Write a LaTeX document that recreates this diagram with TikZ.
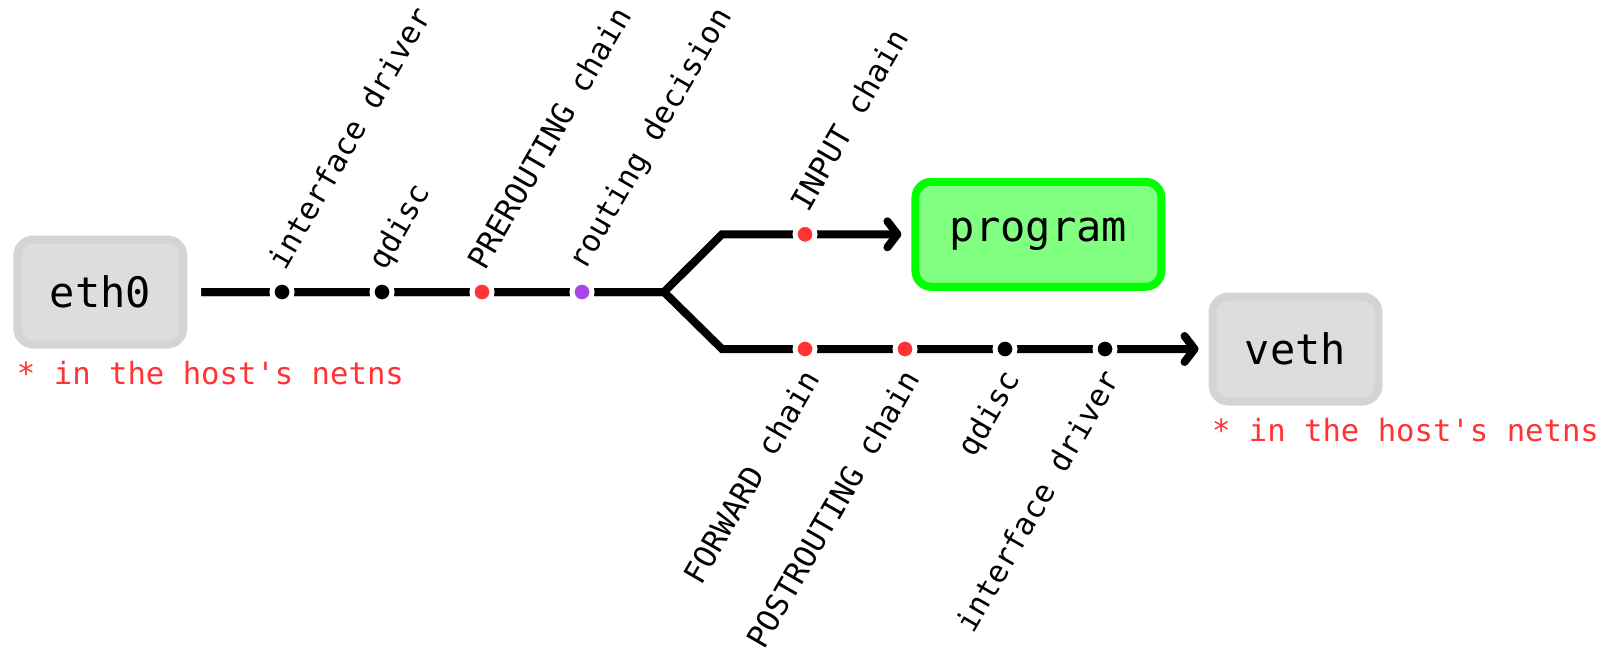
\documentclass[tikz,border=0pt]{standalone}
\usepackage{fontspec}
\setmonofont{DejaVu Sans Mono}
\usetikzlibrary{arrows.meta}
\definecolor{hookred}{HTML}{FF3333}
\definecolor{routepurple}{HTML}{A646E6}
\definecolor{ifgray}{HTML}{DDDDDD}
\definecolor{ifedge}{HTML}{D4D4D4}
\definecolor{proggreen}{HTML}{80FF80}
\definecolor{progedge}{HTML}{00FF00}
\tikzset{iface/.style={draw=ifedge, fill=ifgray, line width=4pt, rounded corners=8pt, minimum width=83pt, minimum height=52.5pt, font=\ttfamily\fontsize{21}{25}\selectfont}}
\tikzset{prog/.style={iface, draw=progedge, fill=proggreen, minimum width=123pt, minimum height=52.5pt}}
\tikzset{hook/.style={circle, draw=white, line width=2.5pt, minimum size=10pt, inner sep=0pt}}
\tikzset{tagup/.style={xshift=1.5pt, yshift=10.5pt, rotate=60, anchor=base west, inner sep=0pt, outer sep=0pt, font=\ttfamily\fontsize{15.3}{18}\selectfont}}
\tikzset{tagdown/.style={xshift=8pt, yshift=-15pt, rotate=60, anchor=base east, inner sep=0pt, outer sep=0pt, font=\ttfamily\fontsize{15.3}{18}\selectfont}}
\tikzset{netns/.style={anchor=base west, inner sep=0pt, text=hookred, font=\ttfamily\fontsize{15.3}{18}\selectfont}}

\begin{document}
\begin{tikzpicture}[x=0.5pt, y=-0.5pt, line width=4pt, >={Straight Barb[round, length=5pt, width=13pt]}]
    \useasboundingbox (0, 0) rectangle (1604, 652);
    \node[iface] (eth) at (100.3, 292) {eth0};
    \node[iface] (veth) at (1295.5, 349) {veth};
    \node[prog] (prog) at (1038.4, 234.3) {program};
    \node[netns] (ethns) at (13, 384.5) {* in the host's netns};
    \node[netns] (vethns) at (1208, 441.5) {* in the host's netns};
    \coordinate (fork) at (664, 292);
    \coordinate (upbend) at (722, 234.3);
    \coordinate (lowbend) at (722, 349);
    % both branches run through the fork so the joins stay sharp
    \draw[->, miter limit=4, shorten <=7pt, shorten >=5pt] (eth.east) -- (fork) -- (lowbend) -- (veth.west);
    \draw[->, miter limit=4, shorten <=7pt, shorten >=5pt] (eth.east) -- (fork) -- (upbend) -- (prog.west);
    % hooks on the way in
    \foreach \x/\c/\n in {282/black/in1, 382/black/in2, 482/hookred/in3, 582/routepurple/in4, 805/hookred/in5}
        \node[hook, fill=\c] (\n) at (\x, {\x > 700 ? 234.3 : 292}) {};
    % hooks on the way out
    \foreach \x/\c/\n in {805/hookred/out1, 905/hookred/out2, 1005/black/out3, 1105/black/out4}
        \node[hook, fill=\c] (\n) at (\x, 349) {};
    \foreach \n/\t in {in1/interface driver, in2/qdisc, in3/PREROUTING chain, in4/routing decision, in5/INPUT chain}
        \node[tagup] at (\n) {\t};
    \foreach \n/\t in {out1/FORWARD chain, out2/POSTROUTING chain, out3/qdisc, out4/interface driver}
        \node[tagdown] at (\n) {\t};
\end{tikzpicture}
\end{document}
